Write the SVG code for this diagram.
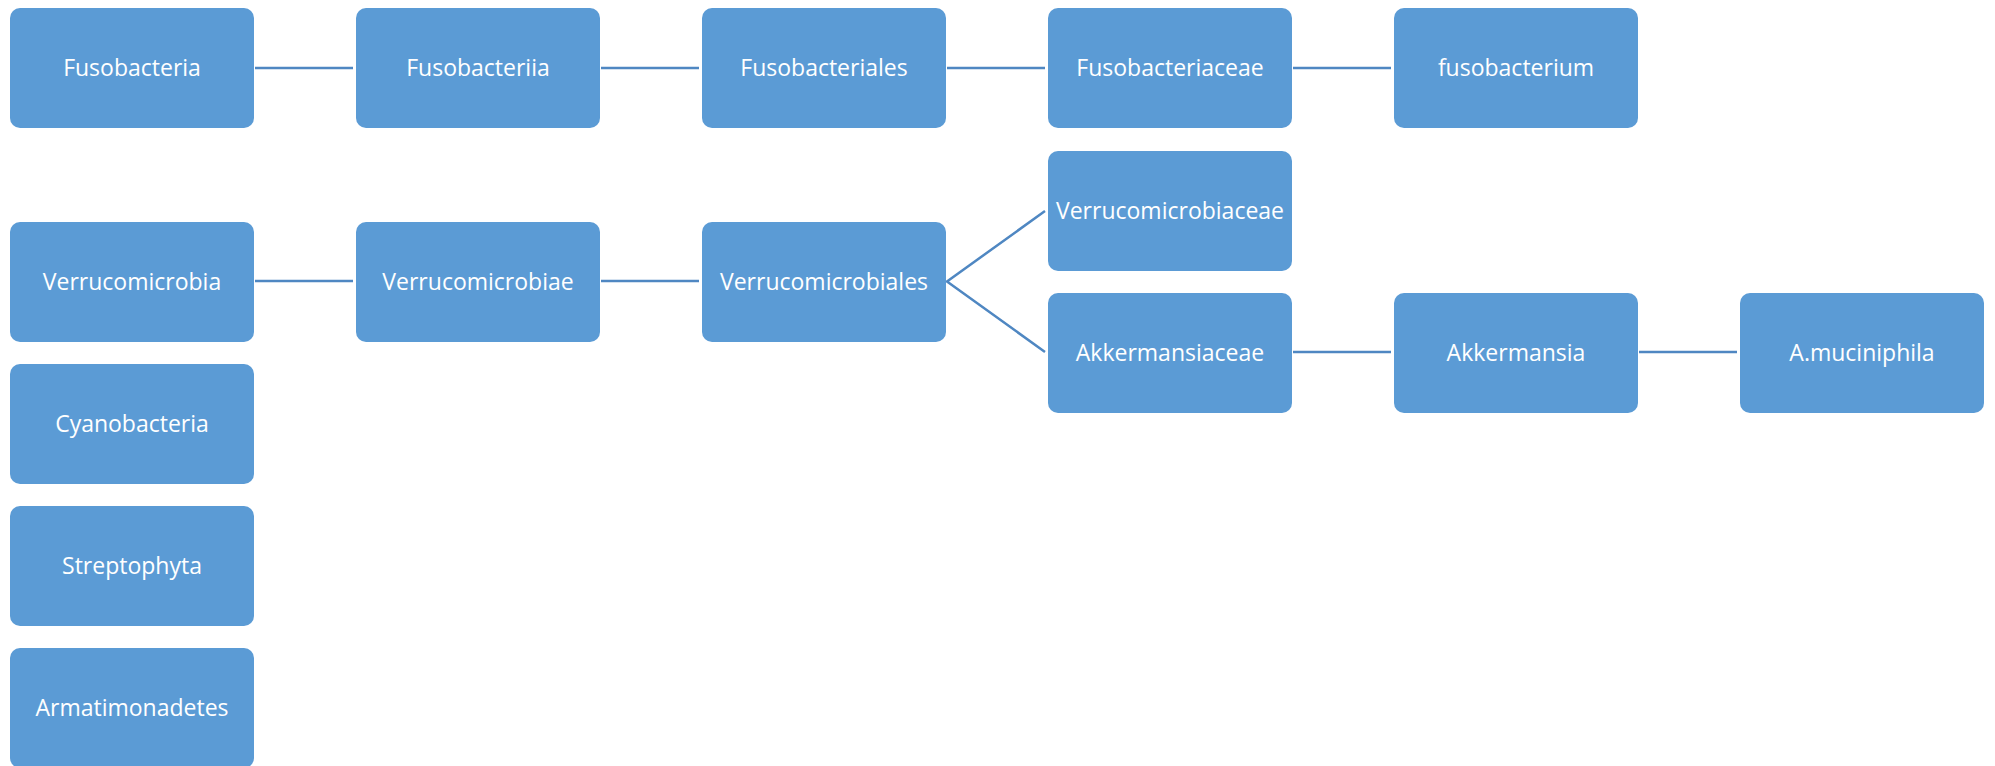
<svg xmlns="http://www.w3.org/2000/svg" width="1995" height="766" viewBox="0 0 1995 766">
<style>
.box{fill:#5b9bd5;}
.lbl{font-family:"Open Sans","Noto Sans",sans-serif;font-size:23px;fill:#ffffff;text-anchor:middle;}
.con{stroke:#4f87c2;stroke-width:2.5;fill:none;}
</style>
<rect width="1995" height="766" fill="#ffffff"/>
<g id="connectors">
<line class="con" x1="255" y1="68" x2="353" y2="68"/>
<line class="con" x1="601" y1="68" x2="699" y2="68"/>
<line class="con" x1="947" y1="68" x2="1045" y2="68"/>
<line class="con" x1="1293" y1="68" x2="1391" y2="68"/>
<line class="con" x1="255" y1="281" x2="353" y2="281"/>
<line class="con" x1="601" y1="281" x2="699" y2="281"/>
<polyline class="con" points="1045,211 947,281.5 1045,352"/>
<line class="con" x1="1293" y1="352" x2="1391" y2="352"/>
<line class="con" x1="1639" y1="352" x2="1737" y2="352"/>
</g>
<g id="n-fusobacteria"><rect class="box" x="10" y="8" width="244" height="120" rx="10"/><text class="lbl" x="132" y="76">Fusobacteria</text></g>
<g id="n-fusobacteriia"><rect class="box" x="356" y="8" width="244" height="120" rx="10"/><text class="lbl" x="478" y="76">Fusobacteriia</text></g>
<g id="n-fusobacteriales"><rect class="box" x="702" y="8" width="244" height="120" rx="10"/><text class="lbl" x="824" y="76">Fusobacteriales</text></g>
<g id="n-fusobacteriaceae"><rect class="box" x="1048" y="8" width="244" height="120" rx="10"/><text class="lbl" x="1170" y="76">Fusobacteriaceae</text></g>
<g id="n-fusobacterium"><rect class="box" x="1394" y="8" width="244" height="120" rx="10"/><text class="lbl" x="1516" y="76">fusobacterium</text></g>
<g id="n-verrucomicrobia"><rect class="box" x="10" y="222" width="244" height="120" rx="10"/><text class="lbl" x="132" y="290">Verrucomicrobia</text></g>
<g id="n-verrucomicrobiae"><rect class="box" x="356" y="222" width="244" height="120" rx="10"/><text class="lbl" x="478" y="290">Verrucomicrobiae</text></g>
<g id="n-verrucomicrobiales"><rect class="box" x="702" y="222" width="244" height="120" rx="10"/><text class="lbl" x="824" y="290">Verrucomicrobiales</text></g>
<g id="n-verrucomicrobiaceae"><rect class="box" x="1048" y="151" width="244" height="120" rx="10"/><text class="lbl" x="1170" y="219">Verrucomicrobiaceae</text></g>
<g id="n-akkermansiaceae"><rect class="box" x="1048" y="293" width="244" height="120" rx="10"/><text class="lbl" x="1170" y="361">Akkermansiaceae</text></g>
<g id="n-akkermansia"><rect class="box" x="1394" y="293" width="244" height="120" rx="10"/><text class="lbl" x="1516" y="361">Akkermansia</text></g>
<g id="n-amuciniphila"><rect class="box" x="1740" y="293" width="244" height="120" rx="10"/><text class="lbl" x="1862" y="361">A.muciniphila</text></g>
<g id="n-cyanobacteria"><rect class="box" x="10" y="364" width="244" height="120" rx="10"/><text class="lbl" x="132" y="432">Cyanobacteria</text></g>
<g id="n-streptophyta"><rect class="box" x="10" y="506" width="244" height="120" rx="10"/><text class="lbl" x="132" y="574">Streptophyta</text></g>
<g id="n-armatimonadetes"><rect class="box" x="10" y="648" width="244" height="120" rx="10"/><text class="lbl" x="132" y="716">Armatimonadetes</text></g>
</svg>
